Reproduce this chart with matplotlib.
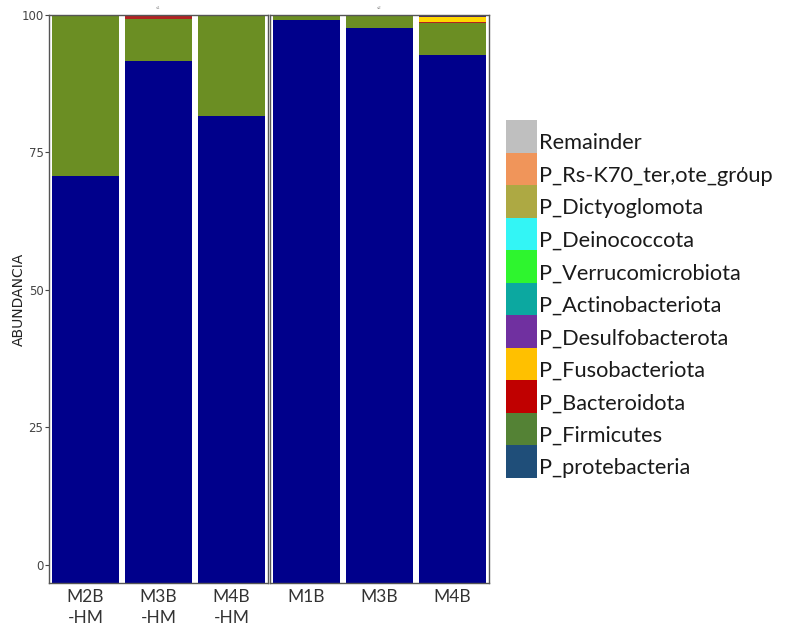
import matplotlib
matplotlib.use("Agg")
import matplotlib.pyplot as plt
from matplotlib.patches import Rectangle
import numpy as np

# ---- data ----
panel_names = ["s1", "s2"]
samples_p1 = ["M2B\n-HM", "M3B\n-HM", "M4B\n-HM"]
samples_p2 = ["M1B", "M3B", "M4B"]

# stacked values (percent), bottom to top
protebacteria_p1 = [70.8, 91.6, 81.6]
firmicutes_p1 = [29.2, 7.7, 18.4]
bacteroidota_p1 = [0.0, 0.7, 0.0]
fusobacteriota_p1 = [0.0, 0.0, 0.0]
desulfo_p1 = [0.0, 0.0, 0.0]

protebacteria_p2 = [99.0, 97.6, 92.7]
firmicutes_p2 = [0.8, 2.4, 5.8]
bacteroidota_p2 = [0.0, 0.0, 0.2]
fusobacteriota_p2 = [0.0, 0.0, 1.0]
desulfo_p2 = [0.2, 0.0, 0.3]

bar_colors = {"protebacteria": "#00008B", "firmicutes": "#6B8E23",
              "bacteroidota": "#B22222", "fusobacteriota": "#FFD700",
              "desulfo": "#4B2C5E"}

legend_labels = ["Remainder", "P_Rs-K70_ter,ote_grόup", "P_Dictyoglomota",
                 "P_Deinococcota", "P_Verrucomicrobiota", "P_Actinobacteriota",
                 "P_Desulfobacterota", "P_Fusobacteriota", "P_Bacteroidota",
                 "P_Firmicutes", "P_protebacteria"]
legend_colors = ["#BFBFBF", "#F0955A", "#ADA943", "#33F5F5", "#2EF52E",
                 "#0CA8A0", "#7030A0", "#FFC000", "#C00000", "#548235",
                 "#1F4E79"]

yticks = [0, 25, 50, 75, 100]
AXIS_FLOOR = -3.3

W, H = 786, 626
fig = plt.figure(figsize=(W / 100, H / 100), dpi=100)

def fx(px):
    return px / W

def fy(py):
    return 1 - py / H

panel_top, panel_bot = 15, 583
axes = []
for i, (left, right) in enumerate([(49, 268), (270, 489)]):
    ax = fig.add_axes([fx(left), fy(panel_bot), fx(right - left), (panel_bot - panel_top) / H])
    axes.append(ax)

panels = [
    (samples_p1, [protebacteria_p1, firmicutes_p1, bacteroidota_p1, fusobacteriota_p1, desulfo_p1]),
    (samples_p2, [protebacteria_p2, firmicutes_p2, bacteroidota_p2, fusobacteriota_p2, desulfo_p2]),
]
keys = ["protebacteria", "firmicutes", "bacteroidota", "fusobacteriota", "desulfo"]

for i, (ax, (samples, layers)) in enumerate(zip(axes, panels)):
    x = np.arange(len(samples))
    bottom = np.zeros(len(samples))
    for k, (key, vals) in enumerate(zip(keys, layers)):
        vals = np.array(vals, dtype=float)
        if k == 0:
            ax.bar(x, vals - AXIS_FLOOR, bottom=AXIS_FLOOR, width=0.91,
                   color=bar_colors[key], linewidth=0)
        else:
            ax.bar(x, vals, bottom=bottom, width=0.91, color=bar_colors[key], linewidth=0)
        bottom = bottom + vals
    ax.set_xlim(-0.5, len(samples) - 0.5)
    ax.set_ylim(AXIS_FLOOR, 100)
    ax.set_xticks(x)
    ax.set_xticklabels(samples, fontsize=12.5, color="#333333", family="Lato",
                       linespacing=1.45, va="top")
    ax.tick_params(axis="x", length=0, pad=4)
    for s in ax.spines.values():
        s.set_color("#555555")
        s.set_linewidth(1.0)
    ax.set_title(panel_names[i], fontsize=3, color="#888888", pad=4)
    if i == 0:
        ax.set_yticks(yticks)
        ax.set_yticklabels([str(t) for t in yticks], fontsize=8.5, color="#444444")
        ax.tick_params(axis="y", length=3, width=0.8, color="#444444", pad=1)
        ax.set_ylabel("ABUNDANCIA", fontsize=10, color="#222222")
        ax.yaxis.set_label_coords(-23 / 219, 0.5)
    else:
        ax.set_yticks([])

# legend drawn manually
box_left, box_right = 506, 537
entry_top, entry_h = 120, 32.5
for j, (lab, col) in enumerate(zip(legend_labels, legend_colors)):
    top = entry_top + j * entry_h
    fig.add_artist(Rectangle((fx(box_left), fy(top + entry_h)), fx(box_right - box_left),
                             entry_h / H, transform=fig.transFigure,
                             facecolor=col, edgecolor="none"))
    fig.text(fx(539), fy(top + entry_h / 2 + 7), lab, fontsize=15.7, family="Lato",
             color="#1a1a1a", va="center", ha="left")

fig.savefig("out.png", dpi=100)
